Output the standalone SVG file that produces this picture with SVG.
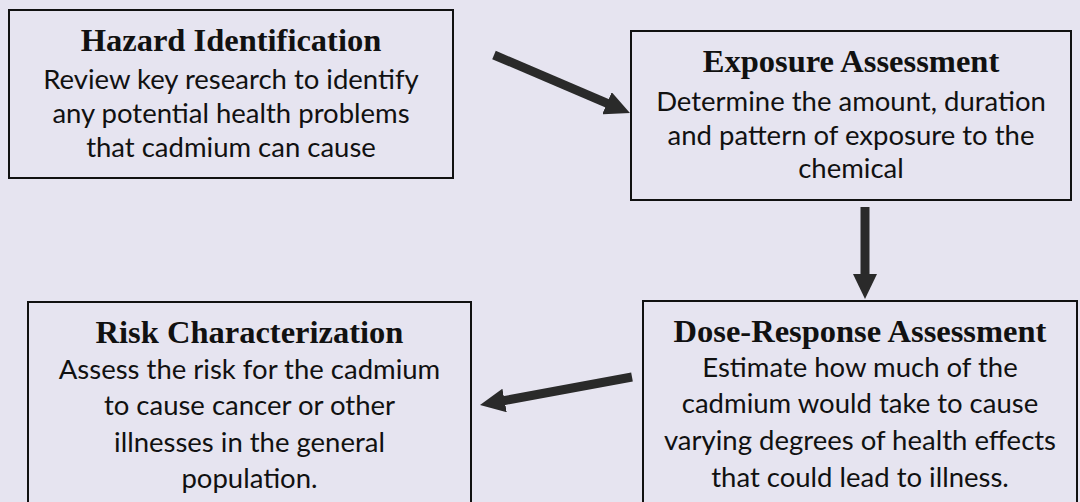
<svg xmlns="http://www.w3.org/2000/svg" width="1080" height="502" viewBox="0 0 1080 502">
<style>
.box{fill:#e6e4f0;stroke:#111;stroke-width:2}
.title{font-family:"Liberation Serif","Times New Roman",serif;font-weight:bold;font-size:32.5px;fill:#111;text-anchor:middle}
.body{font-family:Lato,"Liberation Sans",sans-serif;font-size:27.5px;fill:#111;text-anchor:middle}
.conn{stroke:#2a2a2a;stroke-width:9;fill:none;marker-end:url(#head)}
</style>
<defs>
<marker id="head" markerUnits="userSpaceOnUse" markerWidth="26" markerHeight="24" refX="1" refY="12" orient="auto">
<path d="M0,0 L25,12 L0,24 z" fill="#2a2a2a"/>
</marker>
</defs>
<rect x="0" y="0" width="1080" height="502" fill="#e6e4f0"/>
<g id="hazard">
<rect class="box" x="9" y="10" width="444" height="168"/>
<text class="title" x="231" y="51">Hazard Identification</text>
<text class="body" x="231" y="89">Review key research to identify</text>
<text class="body" x="231" y="123">any potential health problems</text>
<text class="body" x="231" y="157">that cadmium can cause</text>
</g>
<g id="exposure">
<rect class="box" x="631" y="31" width="440" height="169"/>
<text class="title" x="851" y="72">Exposure Assessment</text>
<text class="body" x="851" y="111">Determine the amount, duration</text>
<text class="body" x="851" y="145">and pattern of exposure to the</text>
<text class="body" x="851" y="178">chemical</text>
</g>
<g id="risk">
<rect class="box" x="28" y="302" width="443" height="220"/>
<text class="title" x="249.5" y="343">Risk Characterization</text>
<text class="body" x="249.5" y="379">Assess the risk for the cadmium</text>
<text class="body" x="249.5" y="415">to cause cancer or other</text>
<text class="body" x="249.5" y="452">illnesses in the general</text>
<text class="body" x="249.5" y="488">population.</text>
</g>
<g id="dose">
<rect class="box" x="643" y="301" width="434" height="220"/>
<text class="title" x="860" y="342">Dose-Response Assessment</text>
<text class="body" x="860" y="377">Estimate how much of the</text>
<text class="body" x="860" y="413">cadmium would take to cause</text>
<text class="body" x="860" y="450">varying degrees of health effects</text>
<text class="body" x="860" y="487">that could lead to illness.</text>
</g>
<g id="connectors">
<path class="conn" d="M494,55 L607.9,103.6"/>
<path class="conn" d="M865,207 L865,275"/>
<path class="conn" d="M632,377 L503.6,400.7"/>
</g>
</svg>
